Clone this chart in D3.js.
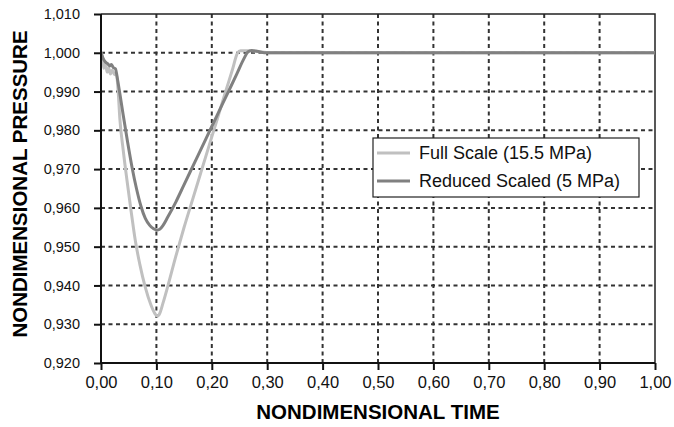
<!DOCTYPE html>
<html>
<head>
<meta charset="utf-8">
<title>Nondimensional pressure</title>
<script src="https://cdnjs.cloudflare.com/ajax/libs/d3/7.8.5/d3.min.js"></script>
<style>
  body { margin: 0; background: #fff; }
  svg { font-family: "Liberation Sans", Arial, sans-serif; }
  .grid line { stroke: #333; stroke-width: 2; stroke-dasharray: 4,3.5; }
  .axis path, .axis line { stroke: #111; stroke-width: 2; }
  .tick text { fill: #111; }
</style>
</head>
<body>
<script>
// tick values
var xTicks = [0, 0.1, 0.2, 0.3, 0.4, 0.5, 0.6, 0.7, 0.8, 0.9, 1.0];
var yTicks = [0.92, 0.93, 0.94, 0.95, 0.96, 0.97, 0.98, 0.99, 1.00, 1.01];

var seriesNames = ["Full Scale (15.5 MPa)", "Reduced Scaled (5 MPa)"];
var seriesColors = ["#c0c0c0", "#808080"];

// [time, pressure]
var fullScale = [
  [0, 1.000], [0.003, 0.9985], [0.005, 0.9960], [0.008, 0.9975], [0.011, 0.9950],
  [0.014, 0.9960], [0.017, 0.9945], [0.020, 0.9955], [0.024, 0.9945], [0.028, 0.9942],
  [0.031, 0.9900], [0.034, 0.9830], [0.040, 0.9750], [0.047, 0.9670], [0.055, 0.9585],
  [0.062, 0.9515], [0.070, 0.9455], [0.080, 0.9395], [0.090, 0.9350], [0.097, 0.9328],
  [0.101, 0.9321], [0.105, 0.9325], [0.112, 0.9355], [0.120, 0.9395], [0.135, 0.9475],
  [0.150, 0.9550], [0.165, 0.9620], [0.180, 0.9690], [0.195, 0.9760], [0.210, 0.9830],
  [0.225, 0.9900], [0.238, 0.9960], [0.246, 0.9998], [0.252, 1.0005], [0.270, 1.0005],
  [0.290, 1.0002], [0.310, 1.0000], [0.500, 1.0000], [0.750, 1.0000], [1.000, 1.0000]
];

var reducedScale = [
  [0, 1.000], [0.004, 0.9985], [0.008, 0.9976], [0.012, 0.9972], [0.016, 0.9966],
  [0.019, 0.9970], [0.022, 0.9962], [0.026, 0.9959], [0.030, 0.9930], [0.034, 0.9895],
  [0.040, 0.9840], [0.048, 0.9770], [0.056, 0.9705], [0.064, 0.9650], [0.072, 0.9605],
  [0.080, 0.9573], [0.088, 0.9555], [0.095, 0.9546], [0.101, 0.9543], [0.106, 0.9545],
  [0.112, 0.9555], [0.120, 0.9575], [0.135, 0.9615], [0.150, 0.9660], [0.170, 0.9720],
  [0.190, 0.9780], [0.210, 0.9840], [0.230, 0.9900], [0.245, 0.9945], [0.258, 0.9985],
  [0.265, 1.0002], [0.272, 1.0006], [0.282, 1.0004], [0.295, 1.0000], [0.500, 1.0000],
  [0.750, 1.0000], [1.000, 1.0000]
];

var width = 674, height = 427;
var margin = {top: 14, right: 19, bottom: 64, left: 101};
var w = width - margin.left - margin.right,
    h = height - margin.top - margin.bottom;

var locale = d3.formatLocale({decimal: ",", thousands: ".", grouping: [3], currency: ["", ""]});

var svg = d3.select("body").append("svg")
    .attr("width", width)
    .attr("height", height);

var g = svg.append("g")
    .attr("transform", "translate(" + margin.left + "," + margin.top + ")");

var x = d3.scaleLinear().domain([0, 1]).range([0, w]);
var y = d3.scaleLinear().domain([0.92, 1.01]).range([h, 0]);

// grid lines
g.append("g").attr("class", "grid")
  .selectAll("line")
  .data(yTicks.slice(1, -1))
  .enter().append("line")
    .attr("x1", 0).attr("x2", w)
    .attr("y1", function(d) { return y(d); })
    .attr("y2", function(d) { return y(d); });

g.append("g").attr("class", "grid")
  .selectAll("line")
  .data(xTicks.slice(1, -1))
  .enter().append("line")
    .attr("y1", 0).attr("y2", h)
    .attr("x1", function(d) { return x(d); })
    .attr("x2", function(d) { return x(d); });

// top / right frame
g.append("path")
  .attr("d", "M0,0H" + w + "V" + h)
  .attr("fill", "none")
  .attr("stroke", "#222")
  .attr("stroke-width", 1.5);

// curves
var line = d3.line()
  .x(function(d) { return x(d[0]); })
  .y(function(d) { return y(d[1]); })
  .curve(d3.curveMonotoneX);

[fullScale, reducedScale].forEach(function(s, i) {
  g.append("path")
    .datum(s)
    .attr("fill", "none")
    .attr("stroke", seriesColors[i])
    .attr("stroke-width", 3)
    .attr("stroke-linejoin", "round")
    .attr("d", line);
});

// axes
var xAxis = d3.axisBottom(x)
  .tickValues(xTicks)
  .tickSize(7)
  .tickPadding(6)
  .tickFormat(locale.format(".2f"));

var yAxis = d3.axisLeft(y)
  .tickValues(yTicks)
  .tickSize(7)
  .tickPadding(14)
  .tickFormat(locale.format(".3f"));

g.append("g")
  .attr("class", "axis x-axis")
  .attr("transform", "translate(0," + h + ")")
  .call(xAxis)
  .call(function(a) { a.select(".domain").attr("d", "M0,0H" + w); })
  .selectAll("text").attr("font-size", 16.5);

g.append("g")
  .attr("class", "axis y-axis")
  .call(yAxis)
  .call(function(a) { a.select(".domain").attr("d", "M0,0V" + h); })
  .selectAll("text").attr("font-size", 14.5);

// axis titles
svg.append("text")
  .attr("x", margin.left + w / 2)
  .attr("y", 419)
  .attr("text-anchor", "middle")
  .attr("font-size", 20.5)
  .attr("font-weight", "bold")
  .text("NONDIMENSIONAL TIME");

svg.append("text")
  .attr("transform", "translate(27," + 184 + ") rotate(-90)")
  .attr("text-anchor", "middle")
  .attr("font-size", 20.5)
  .attr("font-weight", "bold")
  .text("NONDIMENSIONAL PRESSURE");

// legend
var legend = svg.append("g").attr("transform", "translate(373,138)");
legend.append("rect")
  .attr("width", 266).attr("height", 59)
  .attr("fill", "#fff")
  .attr("stroke", "#222")
  .attr("stroke-width", 1.2);

seriesNames.forEach(function(name, i) {
  var row = legend.append("g").attr("transform", "translate(0," + (15 + i * 28) + ")");
  row.append("line")
    .attr("x1", 4).attr("x2", 37)
    .attr("stroke", seriesColors[i])
    .attr("stroke-width", 3);
  row.append("text")
    .attr("x", 46).attr("y", 6)
    .attr("font-size", 18)
    .attr("fill", "#111")
    .text(name);
});
</script>
</body>
</html>
